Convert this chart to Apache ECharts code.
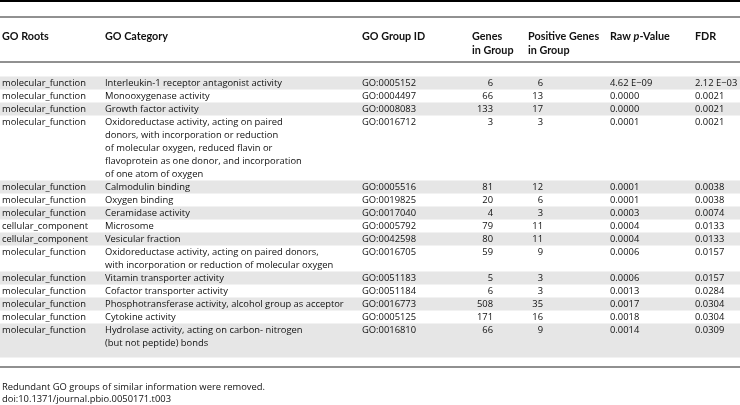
<!DOCTYPE html>
<html>
<head>
<meta charset="utf-8">
<script src="https://cdn.jsdelivr.net/npm/echarts@6/dist/echarts.min.js"></script>
<style>
html, body { margin: 0; padding: 0; background: #fff; }
#chart { width: 740px; height: 405px; }
</style>
</head>
<body>
<div id="chart"></div>
<script>
// table content
var headers = [
    ['GO Roots'],
    ['GO Category'],
    ['GO Group ID'],
    ['Genes', 'in Group'],
    ['Positive Genes', 'in Group'],
    ['Raw {i|p}-Value'],
    ['FDR']
];
var goRoots = [
    'molecular_function', 'molecular_function', 'molecular_function', 'molecular_function',
    'molecular_function', 'molecular_function', 'molecular_function', 'cellular_component',
    'cellular_component', 'molecular_function', 'molecular_function', 'molecular_function',
    'molecular_function', 'molecular_function', 'molecular_function'
];
var goCategories = [
    ['Interleukin-1 receptor antagonist activity'],
    ['Monooxygenase activity'],
    ['Growth factor activity'],
    ['Oxidoreductase activity, acting on paired', 'donors, with incorporation or reduction',
     'of molecular oxygen, reduced flavin or', 'flavoprotein as one donor, and incorporation',
     'of one atom of oxygen'],
    ['Calmodulin binding'],
    ['Oxygen binding'],
    ['Ceramidase activity'],
    ['Microsome'],
    ['Vesicular fraction'],
    ['Oxidoreductase activity, acting on paired donors,', 'with incorporation or reduction of molecular oxygen'],
    ['Vitamin transporter activity'],
    ['Cofactor transporter activity'],
    ['Phosphotransferase activity, alcohol group as acceptor'],
    ['Cytokine activity'],
    ['Hydrolase activity, acting on carbon- nitrogen', '(but not peptide) bonds']
];
var goGroupIds = [
    'GO:0005152', 'GO:0004497', 'GO:0008083', 'GO:0016712', 'GO:0005516', 'GO:0019825', 'GO:0017040',
    'GO:0005792', 'GO:0042598', 'GO:0016705', 'GO:0051183', 'GO:0051184', 'GO:0016773', 'GO:0005125', 'GO:0016810'
];
var genesInGroup = [6, 66, 133, 3, 81, 20, 4, 79, 80, 59, 5, 6, 508, 171, 66];
var positiveGenes = [6, 13, 17, 3, 12, 6, 3, 11, 11, 9, 3, 3, 35, 16, 9];
var rawPValues = ['4.62 E\u221209', '0.0000', '0.0000', '0.0001', '0.0001', '0.0001', '0.0003', '0.0004',
    '0.0004', '0.0006', '0.0006', '0.0013', '0.0017', '0.0018', '0.0014'];
var fdrValues = ['2.12 E\u221203', '0.0021', '0.0021', '0.0021', '0.0038', '0.0038', '0.0074', '0.0133',
    '0.0133', '0.0157', '0.0157', '0.0284', '0.0304', '0.0304', '0.0309'];
var footnotes = ['Redundant GO groups of similar information were removed.', 'doi:10.1371/journal.pbio.0050171.t003'];

// layout (pixel units on hidden value axes)
var FONT = 'Open Sans';
var HFONT = 'Lato';
var FS = 9.4;
var HFS = 10.8;
var lineH = 13;
var firstLineY = 83;
var headerY = 37;
var rules = [[1, 2, '#000'], [17, 1, '#222'], [62, 1, '#222'], [367, 1.2, '#222']];
var headerX = [2, 105, 362, 472, 528, 610, 695];
var cellX = [2, 105, 362, 493, 543, 610, 695];
var cellAlign = ['left', 'left', 'left', 'right', 'right', 'left', 'left'];
var lastRowPad = 8;

var lineStart = [];
var acc = 0;
goCategories.forEach(function (c) { lineStart.push(acc); acc += c.length; });

var myChart = echarts.init(document.getElementById('chart'));

function txt(api, x, y, s, align, bold) {
    var p = api.coord([x, y]);
    var fs = bold ? HFS : FS;
    var ff = bold ? HFONT : FONT;
    return {
        type: 'text',
        style: {
            x: p[0], y: p[1], text: s, align: align, verticalAlign: 'middle',
            fontFamily: ff, fontSize: fs, fontWeight: bold ? 'bold' : 'normal',
            fill: '#111', lineHeight: lineH,
            rich: { i: { fontStyle: 'italic', fontFamily: ff, fontSize: fs, fontWeight: 'bold', fill: '#111' } }
        }
    };
}

function renderRow(params, api) {
    var i = params.dataIndex;
    var n = goCategories[i].length;
    var y0 = firstLineY + lineStart[i] * lineH;
    var top = y0 - lineH / 2;
    var bottom = y0 + (n - 0.5) * lineH + (i === goCategories.length - 1 ? lastRowPad : 0);
    var children = [];
    if (i % 2 === 0) {
        var a = api.coord([0, top]);
        var b = api.coord([740, bottom]);
        children.push({ type: 'rect', shape: { x: a[0], y: a[1], width: b[0] - a[0], height: b[1] - a[1] }, style: { fill: '#e6e6e6' } });
    }
    var cells = [goRoots[i], null, goGroupIds[i], String(genesInGroup[i]), String(positiveGenes[i]), rawPValues[i], fdrValues[i]];
    cells.forEach(function (c, k) {
        if (k === 1) {
            goCategories[i].forEach(function (line, j) {
                children.push(txt(api, cellX[k], y0 + j * lineH, line, 'left', false));
            });
        } else {
            children.push(txt(api, cellX[k], y0, c, cellAlign[k], false));
        }
    });
    return { type: 'group', children: children };
}

function renderFrame(params, api) {
    var children = [];
    rules.forEach(function (r) {
        var a = api.coord([0, r[0]]);
        var b = api.coord([740, r[0]]);
        children.push({ type: 'line', shape: { x1: a[0], y1: a[1], x2: b[0], y2: b[1] }, style: { stroke: r[2], lineWidth: r[1] } });
    });
    headers.forEach(function (h, k) {
        h.forEach(function (line, j) {
            children.push(txt(api, headerX[k], headerY + j * 14, line, 'left', true));
        });
    });
    footnotes.forEach(function (f, j) {
        children.push(txt(api, 2, 387 + j * 12, f, 'left', false));
    });
    return { type: 'group', children: children };
}

myChart.setOption({
    animation: false,
    grid: { left: 0, right: 0, top: 0, bottom: 0 },
    xAxis: { type: 'value', min: 0, max: 740, show: false },
    yAxis: { type: 'value', min: 0, max: 405, inverse: true, show: false },
    series: [
        {
            type: 'custom',
            renderItem: renderRow,
            data: goGroupIds.map(function (id, i) { return [i]; }),
            z: 1
        },
        {
            type: 'custom',
            renderItem: renderFrame,
            data: [[0]],
            z: 2
        }
    ]
});
</script>
</body>
</html>
